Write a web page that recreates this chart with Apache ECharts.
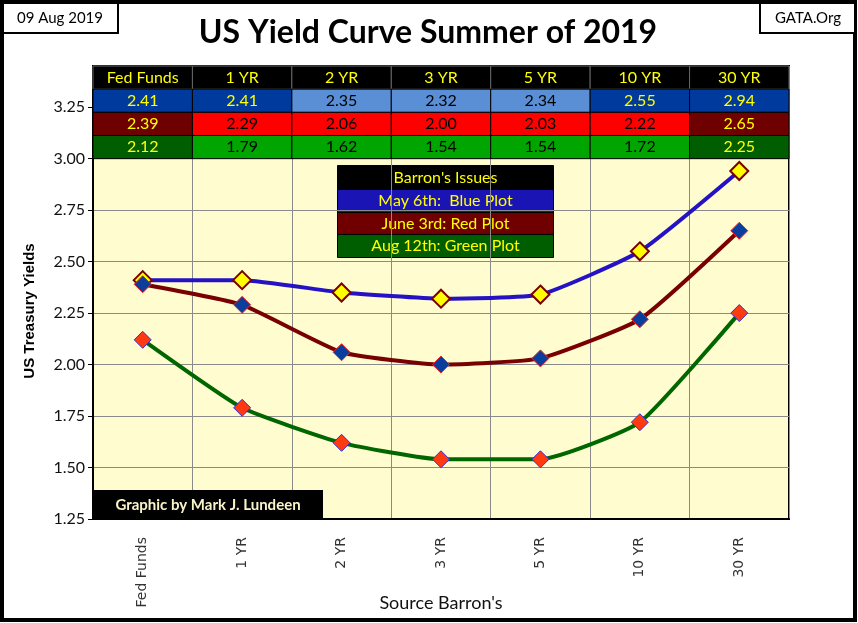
<!DOCTYPE html>
<html><head><meta charset="utf-8">
<script src="https://cdn.jsdelivr.net/npm/echarts@6/dist/echarts.min.js"></script>
<style>html,body{margin:0;padding:0;background:#fff}#c{width:858px;height:623px}</style>
</head><body><div id="c"></div>
<script>
const categories = ['Fed Funds', '1 YR', '2 YR', '3 YR', '5 YR', '10 YR', '30 YR'];
const may6 = [2.41, 2.41, 2.35, 2.32, 2.34, 2.55, 2.94];
const jun3 = [2.39, 2.29, 2.06, 2.00, 2.03, 2.22, 2.65];
const aug12 = [2.12, 1.79, 1.62, 1.54, 1.54, 1.72, 2.25];
const legendTitle = "Barron's Issues";
const legendLabels = ['May 6th:  Blue Plot', 'June 3rd: Red Plot', 'Aug 12th: Green Plot'];

const F = 'Lato, "Open Sans", sans-serif';
const rowsData = [null, may6, jun3, aug12];
const darkCells = [[], [0, 1, 5, 6], [0, 6], [0, 6]];
const rowColors = [
  {dark: '#000000', light: '#000000'},
  {dark: '#003A9C', light: '#5A8FD6'},
  {dark: '#6E0000', light: '#FF0000'},
  {dark: '#005E00', light: '#00A500'}
];
const cells = [];
for (let r = 0; r < 4; r++) for (let i = 0; i < categories.length; i++) cells.push([i, r]);
const Y_TOP = 3.45, ROW_H = 0.1125;

const chart = echarts.init(document.getElementById('c'));
chart.setOption({
  animation: false,
  backgroundColor: '#fff',
  grid: {left: 93, right: 69, top: 66, bottom: 104, outerBoundsMode: 'none', containLabel: false,
    show: true, backgroundColor: '#FFFCCF', borderColor: '#000', borderWidth: 2},
  xAxis: {
    type: 'category', data: categories, boundaryGap: true,
    axisLine: {lineStyle: {color: '#000', width: 2}},
    axisTick: {show: false},
    splitLine: {show: true, lineStyle: {color: '#8a8a8a', width: 1}},
    axisLabel: {rotate: 90, margin: 18, fontFamily: '"DejaVu Sans", sans-serif', fontSize: 14, color: '#333', interval: 0},
    name: "Source Barron's", nameLocation: 'middle', nameGap: 75, nameMoveOverlap: false,
    nameTextStyle: {fontFamily: F, fontSize: 18, color: '#111'}
  },
  yAxis: {
    type: 'value', min: 1.25, max: Y_TOP, interval: 0.25,
    axisLine: {show: true, lineStyle: {color: '#000', width: 2}},
    axisTick: {show: true, length: 5, lineStyle: {color: '#000'}},
    splitLine: {show: true, lineStyle: {color: '#8a8a8a', width: 1}},
    axisLabel: {showMaxLabel: false, formatter: v => v.toFixed(2), fontFamily: F, fontSize: 16, color: '#111', margin: 8}
  },
  graphic: [
    {type: 'rect', shape: {x: 2, y: 2, width: 853, height: 618}, style: {fill: 'none', stroke: '#000', lineWidth: 4}, z: 100},
    {type: 'rect', shape: {x: 3, y: 3, width: 115, height: 30}, style: {fill: '#fff', stroke: '#000', lineWidth: 2}, z: 100},
    {type: 'text', x: 60, y: 18, style: {text: '09 Aug 2019', font: '15px ' + F, fill: '#000', textAlign: 'center', textVerticalAlign: 'middle'}, z: 101},
    {type: 'rect', shape: {x: 760, y: 3, width: 95, height: 30}, style: {fill: '#fff', stroke: '#000', lineWidth: 2}, z: 100},
    {type: 'text', x: 808, y: 18, style: {text: 'GATA.Org', font: '15px ' + F, fill: '#000', textAlign: 'center', textVerticalAlign: 'middle'}, z: 101},
    {type: 'text', x: 428, y: 33, style: {text: 'US Yield Curve Summer of 2019', font: 'bold 32px ' + F, fill: '#000', textAlign: 'center', textVerticalAlign: 'middle'}, z: 101},
    {type: 'text', x: 30, y: 311, rotation: Math.PI / 2, style: {text: 'US Treasury Yields', font: 'bold 15px "Liberation Sans", sans-serif', fill: '#000', textAlign: 'center', textVerticalAlign: 'middle'}, z: 101},
    {type: 'group', left: 337, top: 165, z: 100, children: [
      {type: 'rect', shape: {x: 0, y: 0, width: 216, height: 24}, style: {fill: '#000', stroke: '#000'}},
      {type: 'rect', shape: {x: 0, y: 24, width: 216, height: 23}, style: {fill: '#1A14B4', stroke: '#000'}},
      {type: 'rect', shape: {x: 0, y: 47, width: 216, height: 22}, style: {fill: '#700000', stroke: '#000'}},
      {type: 'rect', shape: {x: 0, y: 69, width: 216, height: 23}, style: {fill: '#005E00', stroke: '#000'}},
      {type: 'text', x: 108, y: 12, style: {text: legendTitle, font: '16px ' + F, fill: '#FFFF00', textAlign: 'center', textVerticalAlign: 'middle'}},
      {type: 'text', x: 108, y: 35.5, style: {text: legendLabels[0], font: '16px ' + F, fill: '#FFFF00', textAlign: 'center', textVerticalAlign: 'middle'}},
      {type: 'text', x: 108, y: 58, style: {text: legendLabels[1], font: '16px ' + F, fill: '#FFFF00', textAlign: 'center', textVerticalAlign: 'middle'}},
      {type: 'text', x: 108, y: 80.5, style: {text: legendLabels[2], font: '16px ' + F, fill: '#FFFF00', textAlign: 'center', textVerticalAlign: 'middle'}}
    ]},
    {type: 'rect', shape: {x: 94, y: 490, width: 229, height: 29}, style: {fill: '#000'}, z: 100},
    {type: 'text', x: 208, y: 505, style: {text: 'Graphic by Mark J. Lundeen', font: 'bold 15px ' + F, fill: '#FAF3C8', textAlign: 'center', textVerticalAlign: 'middle'}, z: 101}
  ],
  series: [
    {type: 'line', data: may6, smooth: 0.15, symbol: 'diamond', symbolSize: 18,
      lineStyle: {color: '#2412C4', width: 4}, itemStyle: {color: '#FFFF00', borderColor: '#7A0000', borderWidth: 2}, z: 3},
    {type: 'line', data: jun3, smooth: 0.15, symbol: 'diamond', symbolSize: 17,
      lineStyle: {color: '#780000', width: 4}, itemStyle: {color: '#0A3E9C', borderColor: '#FF2020', borderWidth: 1}, z: 4},
    {type: 'line', data: aug12, smooth: 0.15, symbol: 'diamond', symbolSize: 17,
      lineStyle: {color: '#006600', width: 4}, itemStyle: {color: '#FF3A10', borderColor: '#3030E0', borderWidth: 1}, z: 5},
    {type: 'custom', data: cells, z: 20, clip: false,
      renderItem: function (params, api) {
        const i = api.value(0), r = api.value(1);
        const cx = api.coord([i, 3.0])[0];
        const w = api.size([1, 0])[0];
        const yT = api.coord([i, Y_TOP - r * ROW_H])[1];
        const yB = api.coord([i, Y_TOP - (r + 1) * ROW_H])[1];
        const dark = r === 0 || darkCells[r].indexOf(i) >= 0;
        const txt = r === 0 ? categories[i] : rowsData[r][i].toFixed(2);
        return {type: 'group', children: [
          {type: 'rect', shape: {x: cx - w / 2, y: yT, width: w, height: yB - yT},
            style: {fill: dark ? rowColors[r].dark : rowColors[r].light, stroke: r === 0 ? '#666' : '#000', lineWidth: 1}},
          {type: 'text', x: cx, y: (yT + yB) / 2,
            style: {text: txt, font: '16px ' + F, fill: dark ? '#FFFF00' : '#000', textAlign: 'center', textVerticalAlign: 'middle'}}
        ]};
      }
    }
  ]
});
</script></body></html>
